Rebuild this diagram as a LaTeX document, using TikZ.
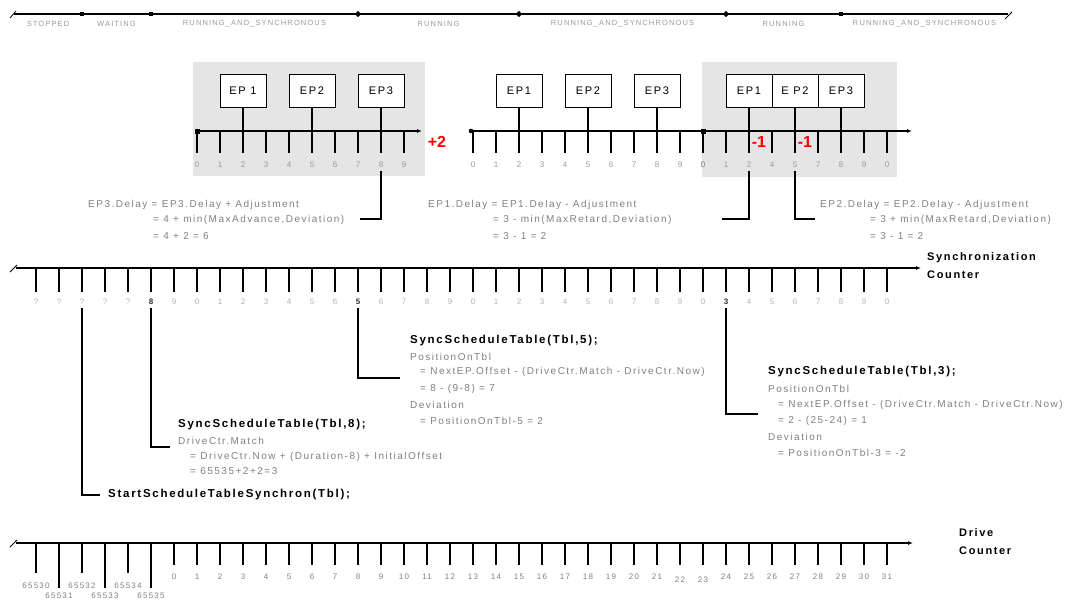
\documentclass[tikz,border=0pt]{standalone}
\usepackage{fontspec}
\setmainfont{Liberation Sans}
\newfontfamily\spacedfont[LetterSpace=15]{Liberation Sans}
\usetikzlibrary{positioning,arrows.meta,calc}

\begin{document}
\begin{tikzpicture}[
    x=1pt, y=-1pt,
    font=\spacedfont,
    axisline/.style={line width=1.2pt},
    tickline/.style={line width=1.2pt},
    brk/.style={line width=1.2pt},
    tip/.style={-{Latex[length=5pt,width=4pt]}},
    panel/.style={fill=black!10, draw=none},
    epbox/.style={draw, line width=1pt, fill=white, minimum width=46pt,
                  minimum height=33pt, inner sep=0pt,
                  font=\spacedfont\fontsize{11}{12}\selectfont},
    num/.style={text=black!30, inner sep=0pt,
                font=\spacedfont\fontsize{8}{9}\selectfont},
    pnum/.style={num, text=black!40},
    dnum/.style={num, text=black!50},
    hinum/.style={text=black!80, font=\spacedfont\bfseries\fontsize{8}{9}\selectfont},
    statelbl/.style={text=black!40, inner sep=0pt,
                     font=\spacedfont\fontsize{7.5}{8}\selectfont},
    eq/.style={text=black!50, anchor=west, inner sep=0pt,
               font=\spacedfont\fontsize{10}{11}\selectfont},
    call/.style={anchor=west, inner sep=0pt,
                 font=\spacedfont\bfseries\fontsize{11.5}{12}\selectfont},
    cname/.style={anchor=north west, align=left, inner sep=0pt,
                  font=\spacedfont\bfseries\fontsize{11}{18}\selectfont},
    corr/.style={text=red, inner sep=0pt,
                 font=\bfseries\fontsize{16}{18}\selectfont},
    % highlighted sync counter labels
    s5/.style={hinum}, s14/.style={hinum}, s30/.style={hinum},
    d22/.style={yshift=-3pt}, d23/.style={yshift=-3pt},
  ]
  \useasboundingbox (0,0) rectangle (1076,602);

  % --- grey panels behind the adjusted tables ---
  \fill[panel] (193,62) rectangle (425,176);
  \fill[panel] (702,62) rectangle (897,177);

  % --- top: schedule table states ---
  \coordinate (s0) at (14,14);
  \coordinate (s1) at (82,14);
  \coordinate (s2) at (151,14);
  \coordinate (s3) at (358,14);
  \coordinate (s4) at (519,14);
  \coordinate (s5) at (726,14);
  \coordinate (s6) at (841,14);
  \coordinate (s7) at (1008,14);
  \draw[axisline] (s0) -- (s7);
  \draw[line width=0.8pt] (10,18) -- (16,11);
  \draw[line width=0.8pt] (1005,19) -- (1012,12);
  \foreach \p in {s1,s2,s6}
    \fill (\p) +(-2.3,-2.3) rectangle +(2.3,2.3);
  \foreach \p in {s3,s4,s5}
    \fill (\p) +(0,-3.2) -- +(3.2,0) -- +(0,3.2) -- +(-3.2,0) -- cycle;
  \foreach \a/\b/\t in {0/1/STOPPED, 1/2/WAITING, 2/3/RUNNING\_AND\_SYNCHRONOUS,
                        3/4/RUNNING, 4/5/RUNNING\_AND\_SYNCHRONOUS,
                        5/6/RUNNING, 6/7/RUNNING\_AND\_SYNCHRONOUS}
    \node[statelbl] (st\a) at ($(s\a)!0.5!(s\b)+(0,10)$) {\t};

  % --- panel 1: table with EP3 delay +2 ---
  \draw[axisline, tip] (197,131) -- (422,131);
  \fill (197,131) +(-2.5,-2.5) rectangle +(2.5,2.5);
  \foreach \v [count=\i from 0] in {0,...,9} {
    \coordinate (a\i) at (197+23*\i,131);
    \draw[tickline] (a\i) -- ++(0,22);
    \node[pnum] (al\i) at (197+23*\i,165) {\v};
  }
  \node[epbox] (p1e1) at (243,91) {EP 1};
  \node[epbox] (p1e2) at (312,91) {EP2};
  \node[epbox] (p1e3) at (381,91) {EP3};
  \draw[tickline] (p1e1.south) -- (a2);
  \draw[tickline] (p1e2.south) -- (a5);
  \draw[tickline] (p1e3.south) -- (a8);
  \node[corr] (plus) at (437,142) {+2};

  % --- panel 2: table without adjustment ---
  \draw[axisline] (471,131) -- (703,131);
  \fill (471,131) circle (2.3);
  \foreach \v [count=\i from 0] in {0,1,2,3,4,5,6,7,8,9,0} {
    \coordinate (b\i) at (473+23*\i,131);
    \draw[tickline] (b\i) -- ++(0,22);
    \node[pnum] (bl\i) at (473+23*\i,165) {\v};
  }
  \node[epbox] (p2e1) at (519,91) {EP1};
  \node[epbox] (p2e2) at (588,91) {EP2};
  \node[epbox] (p2e3) at (657,91) {EP3};
  \draw[tickline] (p2e1.south) -- (b2);
  \draw[tickline] (p2e2.south) -- (b5);
  \draw[tickline] (p2e3.south) -- (b8);

  % --- panel 3: table with EP1, EP2 delay -1 ---
  \draw[axisline, tip] (703,131) -- (912,131);
  \fill (703,131) +(-2.5,-2.5) rectangle +(2.5,2.5);
  \foreach \v [count=\i from 0] in {0,1,2,4,5,7,8,9,0} {
    \coordinate (c\i) at (703+23*\i,131);
    \draw[tickline] (c\i) -- ++(0,22);
    \node[pnum] (cl\i) at (703+23*\i,165) {\v};
  }
  \node[epbox] (p3e1) at (749,91) {EP1};
  \node[epbox] (p3e2) at (795,91) {E P2};
  \node[epbox] (p3e3) at (841,91) {EP3};
  \draw[tickline] (p3e1.south) -- (c2);
  \draw[tickline] (p3e2.south) -- (c4);
  \draw[tickline] (p3e3.south) -- (c6);
  \node[corr] (minA) at (759,142) {-1};
  \node[corr] (minB) at (805,142) {-1};

  % --- delay adjustments ---
  \node[eq] (eA1) at (88,205) {EP3.Delay = EP3.Delay + Adjustment};
  \node[eq] (eA2) at (153,220) {= 4 + min(MaxAdvance,Deviation)};
  \node[eq] (eA3) at (153,236) {= 4 + 2 = 6};
  \coordinate (kA) at (360,219);
  \draw[brk] ([yshift=-3pt]al8.south) |- (kA);

  \node[eq] (eB1) at (428,205) {EP1.Delay = EP1.Delay - Adjustment};
  \node[eq] (eB2) at (493,220) {= 3 - min(MaxRetard,Deviation)};
  \node[eq] (eB3) at (493,236) {= 3 - 1 = 2};
  \coordinate (kB) at (722,219);
  \draw[brk] ([yshift=-3pt]cl2.south) |- (kB);

  \node[eq] (eC1) at (820,205) {EP2.Delay = EP2.Delay - Adjustment};
  \node[eq] (eC2) at (870,220) {= 3 + min(MaxRetard,Deviation)};
  \node[eq] (eC3) at (870,236) {= 3 - 1 = 2};
  \coordinate (kC) at (815,219);
  \draw[brk] ([yshift=-3pt]cl4.south) |- (kC);

  % --- synchronization counter ---
  \draw[axisline, tip] (16,268) -- (921,268);
  \draw[line width=0.8pt] (10,272) -- (17,265);
  \foreach \v [count=\i from 0] in {?,?,?,?,?,8,9,0,1,2,3,4,5,6,5,6,7,8,9,0,
                                    1,2,3,4,5,6,7,8,9,0,3,4,5,6,7,8,9,0} {
    \coordinate (sc\i) at (36+23*\i,268);
    \draw[tickline] (sc\i) -- ++(0,24);
    \node[num, s\i/.try] (sl\i) at (36+23*\i,302) {\v};
  }
  \node[cname] (synccap) at (927,252) {Synchronization\\Counter};

  % --- service calls on the synchronization counter ---
  \node[call] (start) at (108,495) {StartScheduleTableSynchron(Tbl);};
  \draw[brk] ([yshift=-3pt]sl2.south) |- ([xshift=-8pt]start.west);

  \node[call] (sync8) at (178,425) {SyncScheduleTable(Tbl,8);};
  \node[eq] (m8a) at (178,441) {DriveCtr.Match};
  \node[eq] (m8b) at (190,457) {= DriveCtr.Now + (Duration-8) + InitialOffset};
  \node[eq] (m8c) at (190,471) {= 65535+2+2=3};
  \coordinate (k8) at (170,447);
  \draw[brk] ([yshift=-3pt]sl5.south) |- (k8);

  \node[call] (sync5) at (410,341) {SyncScheduleTable(Tbl,5);};
  \node[eq] (p5a) at (410,357) {PositionOnTbl};
  \node[eq] (p5b) at (420,372) {= NextEP.Offset - (DriveCtr.Match - DriveCtr.Now)};
  \node[eq] (p5c) at (420,389) {= 8 - (9-8) = 7};
  \node[eq] (p5d) at (410,405) {Deviation};
  \node[eq] (p5e) at (420,421) {= PositionOnTbl-5 = 2};
  \coordinate (k5) at (400,378);
  \draw[brk] ([yshift=-3pt]sl14.south) |- (k5);

  \node[call] (sync3) at (768,372) {SyncScheduleTable(Tbl,3);};
  \node[eq] (p3a) at (768,389) {PositionOnTbl};
  \node[eq] (p3b) at (778,405) {= NextEP.Offset - (DriveCtr.Match - DriveCtr.Now)};
  \node[eq] (p3c) at (778,421) {= 2 - (25-24) = 1};
  \node[eq] (p3d) at (768,437) {Deviation};
  \node[eq] (p3e) at (778,453) {= PositionOnTbl-3 = -2};
  \coordinate (k3) at (758,414);
  \draw[brk] ([yshift=-3pt]sl30.south) |- (k3);

  % --- drive counter ---
  \draw[axisline, tip] (16,543) -- (913,543);
  \draw[line width=0.8pt] (10,547) -- (17,540);
  \foreach \v/\len/\ly [count=\i from 0] in {65530/30/586, 65531/45/596,
        65532/30/586, 65533/45/596, 65534/30/586, 65535/45/596} {
    \coordinate (w\i) at (36+23*\i,543);
    \draw[tickline] (w\i) -- ++(0,\len);
    \node[dnum] (wl\i) at (36+23*\i,\ly) {\v};
  }
  \foreach \i in {0,...,31} {
    \coordinate (dc\i) at (174+23*\i,543);
    \draw[tickline] (dc\i) -- ++(0,22);
    \node[dnum, d\i/.try] (dl\i) at (174+23*\i,577) {\i};
  }
  \node[cname] (drivecap) at (959,528) {Drive\\Counter};
\end{tikzpicture}
\end{document}
